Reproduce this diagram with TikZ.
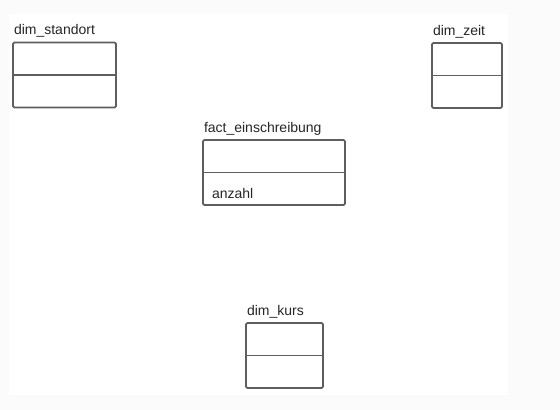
\documentclass[tikz,border=0pt]{standalone}
\usepackage{fontspec}
\setmainfont{Liberation Sans}
\usetikzlibrary{positioning}
\definecolor{rahmen}{HTML}{5E5E5E}
\definecolor{rand}{HTML}{FBFBFB}

\begin{document}
\begin{tikzpicture}[x=0.75pt, y=-0.75pt, line width=1.35pt,
    tabelle/.style={draw=rahmen, rounded corners=1pt, minimum width=#1*0.75pt,
                    minimum height=65*0.75pt, inner sep=0pt},
    titel/.style={font=\fontsize{10.5}{12}\selectfont, text=black!85, inner sep=0pt}]
  \fill[rand] (0,0) rectangle (560,410);
  \fill[white] (9,14) rectangle (508,395);
  \useasboundingbox (0,0) rectangle (560,410);
  % tables of the star schema
  \foreach \n/\t/\cx/\cy/\w in {standort/dim\_standort/64.5/75/103,
      zeit/dim\_zeit/467/75.5/70, fact/fact\_einschreibung/274/172.5/142,
      kurs/dim\_kurs/284.5/355.5/77}{
    \node[tabelle=\w] (\n) at (\cx,\cy) {};
    \draw[rahmen] (\n.west) -- (\n.east);
    \node[titel, above right=5.25pt and 0.75pt of \n.north west, anchor=base west]
      (\n-titel) {\t};}
  \node[titel, above right=5.25pt and 6.75pt of fact.south west, anchor=base west]
    (fact-anzahl) {anzahl};
\end{tikzpicture}
\end{document}
